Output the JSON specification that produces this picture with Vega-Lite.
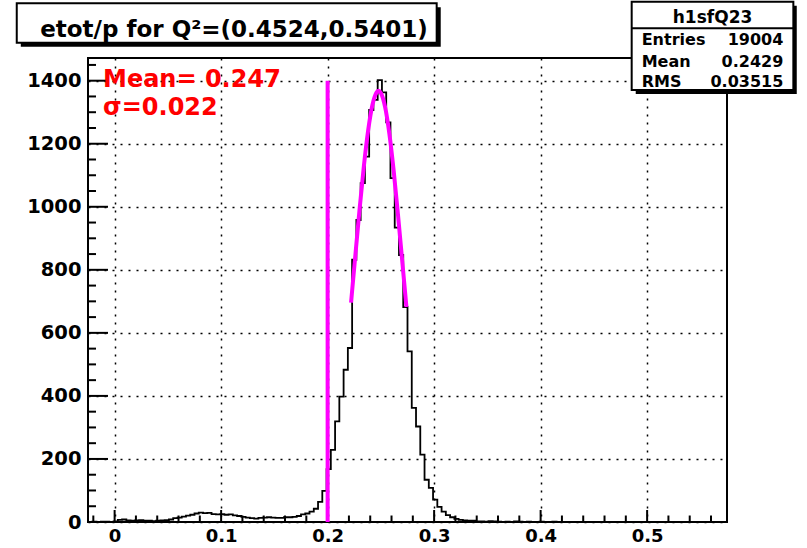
{
  "$schema": "https://vega.github.io/schema/vega-lite/v6.json",
  "width": 639,
  "height": 464,
  "autosize": {"type": "none"},
  "padding": {"left": 88, "top": 58, "right": 80, "bottom": 26},
  "background": "white",
  "config": {
    "view": {"stroke": "black", "strokeWidth": 2},
    "font": "DejaVu Sans"
  },
  "datasets": {
    "hist": [
      {"x": -0.025, "n": 0}, {"x": -0.021, "n": 1}, {"x": -0.017, "n": 0}, {"x": -0.013, "n": 1}, {"x": -0.009, "n": 1},
      {"x": -0.005, "n": 0}, {"x": -0.001, "n": 2}, {"x": 0.003, "n": 7}, {"x": 0.007, "n": 8}, {"x": 0.011, "n": 5},
      {"x": 0.015, "n": 4}, {"x": 0.019, "n": 5}, {"x": 0.023, "n": 6}, {"x": 0.027, "n": 4}, {"x": 0.031, "n": 4},
      {"x": 0.035, "n": 3}, {"x": 0.039, "n": 4}, {"x": 0.043, "n": 5}, {"x": 0.047, "n": 6}, {"x": 0.051, "n": 8},
      {"x": 0.055, "n": 12}, {"x": 0.059, "n": 14}, {"x": 0.063, "n": 17}, {"x": 0.067, "n": 20}, {"x": 0.071, "n": 23},
      {"x": 0.075, "n": 27}, {"x": 0.079, "n": 30}, {"x": 0.083, "n": 28}, {"x": 0.087, "n": 29}, {"x": 0.091, "n": 25},
      {"x": 0.095, "n": 24}, {"x": 0.099, "n": 25}, {"x": 0.103, "n": 23}, {"x": 0.107, "n": 24}, {"x": 0.111, "n": 21},
      {"x": 0.115, "n": 19}, {"x": 0.119, "n": 16}, {"x": 0.123, "n": 14}, {"x": 0.127, "n": 12}, {"x": 0.131, "n": 11},
      {"x": 0.135, "n": 13}, {"x": 0.139, "n": 14}, {"x": 0.143, "n": 15}, {"x": 0.147, "n": 14}, {"x": 0.151, "n": 13},
      {"x": 0.155, "n": 13}, {"x": 0.159, "n": 15}, {"x": 0.163, "n": 15}, {"x": 0.167, "n": 16}, {"x": 0.171, "n": 19},
      {"x": 0.175, "n": 24}, {"x": 0.179, "n": 27}, {"x": 0.183, "n": 33}, {"x": 0.187, "n": 42}, {"x": 0.191, "n": 64},
      {"x": 0.195, "n": 99}, {"x": 0.199, "n": 168}, {"x": 0.203, "n": 229}, {"x": 0.207, "n": 319}, {"x": 0.211, "n": 398},
      {"x": 0.215, "n": 483}, {"x": 0.219, "n": 552}, {"x": 0.223, "n": 832}, {"x": 0.227, "n": 958}, {"x": 0.231, "n": 1075},
      {"x": 0.235, "n": 1159}, {"x": 0.239, "n": 1307}, {"x": 0.243, "n": 1339}, {"x": 0.247, "n": 1402}, {"x": 0.251, "n": 1363},
      {"x": 0.255, "n": 1268}, {"x": 0.259, "n": 1091}, {"x": 0.263, "n": 934}, {"x": 0.267, "n": 847}, {"x": 0.271, "n": 682},
      {"x": 0.275, "n": 541}, {"x": 0.279, "n": 362}, {"x": 0.283, "n": 303}, {"x": 0.287, "n": 214}, {"x": 0.291, "n": 134},
      {"x": 0.295, "n": 108}, {"x": 0.299, "n": 71}, {"x": 0.303, "n": 48}, {"x": 0.307, "n": 33}, {"x": 0.311, "n": 22},
      {"x": 0.315, "n": 15}, {"x": 0.319, "n": 10}, {"x": 0.323, "n": 7}, {"x": 0.327, "n": 5}, {"x": 0.331, "n": 4},
      {"x": 0.335, "n": 4}, {"x": 0.339, "n": 2}, {"x": 0.343, "n": 2}, {"x": 0.347, "n": 1}, {"x": 0.351, "n": 3},
      {"x": 0.355, "n": 2}, {"x": 0.359, "n": 1}, {"x": 0.363, "n": 0}, {"x": 0.367, "n": 1}, {"x": 0.371, "n": 0},
      {"x": 0.375, "n": 2}, {"x": 0.379, "n": 1}, {"x": 0.383, "n": 0}, {"x": 0.387, "n": 1}, {"x": 0.391, "n": 0},
      {"x": 0.395, "n": 0}, {"x": 0.399, "n": 1}, {"x": 0.403, "n": 0}, {"x": 0.407, "n": 0}, {"x": 0.411, "n": 1},
      {"x": 0.415, "n": 0}, {"x": 0.419, "n": 0}, {"x": 0.423, "n": 0}, {"x": 0.427, "n": 0}, {"x": 0.431, "n": 0},
      {"x": 0.435, "n": 0}, {"x": 0.439, "n": 0}, {"x": 0.443, "n": 0}, {"x": 0.447, "n": 0}, {"x": 0.451, "n": 0},
      {"x": 0.455, "n": 0}, {"x": 0.459, "n": 0}, {"x": 0.463, "n": 0}, {"x": 0.467, "n": 0}, {"x": 0.471, "n": 0},
      {"x": 0.475, "n": 0}, {"x": 0.479, "n": 0}, {"x": 0.483, "n": 0}, {"x": 0.487, "n": 0}, {"x": 0.491, "n": 0},
      {"x": 0.495, "n": 0}, {"x": 0.499, "n": 0}, {"x": 0.503, "n": 0}, {"x": 0.507, "n": 0}, {"x": 0.511, "n": 0},
      {"x": 0.515, "n": 0}, {"x": 0.519, "n": 0}, {"x": 0.523, "n": 0}, {"x": 0.527, "n": 0}, {"x": 0.531, "n": 0},
      {"x": 0.535, "n": 0}, {"x": 0.539, "n": 0}, {"x": 0.543, "n": 0}, {"x": 0.547, "n": 0}, {"x": 0.551, "n": 0},
      {"x": 0.555, "n": 0}, {"x": 0.559, "n": 0}, {"x": 0.563, "n": 0}, {"x": 0.567, "n": 0}, {"x": 0.571, "n": 0},
      {"x": 0.575, "n": 0}
    ],
    "fit": [
      {"x": 0.222, "y": 696}, {"x": 0.226, "y": 845}, {"x": 0.230, "y": 992}, {"x": 0.234, "y": 1128},
      {"x": 0.238, "y": 1241}, {"x": 0.242, "y": 1322}, {"x": 0.246, "y": 1363}, {"x": 0.2478, "y": 1368},
      {"x": 0.250, "y": 1361}, {"x": 0.254, "y": 1316}, {"x": 0.258, "y": 1231}, {"x": 0.262, "y": 1115},
      {"x": 0.266, "y": 977}, {"x": 0.270, "y": 830}, {"x": 0.274, "y": 682}
    ],
    "cut": [{"x": 0.2, "top": 1400}],
    "xmajor": [{"v": 0}, {"v": 0.1}, {"v": 0.2}, {"v": 0.3}, {"v": 0.4}, {"v": 0.5}],
    "xminor": [
      {"v": -0.02}, {"v": 0.02}, {"v": 0.04}, {"v": 0.06}, {"v": 0.08}, {"v": 0.12}, {"v": 0.14}, {"v": 0.16}, {"v": 0.18},
      {"v": 0.22}, {"v": 0.24}, {"v": 0.26}, {"v": 0.28}, {"v": 0.32}, {"v": 0.34}, {"v": 0.36}, {"v": 0.38},
      {"v": 0.42}, {"v": 0.44}, {"v": 0.46}, {"v": 0.48}, {"v": 0.52}, {"v": 0.54}, {"v": 0.56}
    ],
    "ymajor": [{"v": 0}, {"v": 200}, {"v": 400}, {"v": 600}, {"v": 800}, {"v": 1000}, {"v": 1200}, {"v": 1400}],
    "yminor": [
      {"v": 50}, {"v": 100}, {"v": 150}, {"v": 250}, {"v": 300}, {"v": 350}, {"v": 450}, {"v": 500}, {"v": 550},
      {"v": 650}, {"v": 700}, {"v": 750}, {"v": 850}, {"v": 900}, {"v": 950}, {"v": 1050}, {"v": 1100}, {"v": 1150},
      {"v": 1250}, {"v": 1300}, {"v": 1350}, {"v": 1450}
    ]
  },
  "layer": [
    {
      "data": {"name": "hist"},
      "mark": {"type": "line", "interpolate": "step-after", "color": "black", "strokeWidth": 1.8},
      "encoding": {
        "x": {
          "field": "x", "type": "quantitative",
          "scale": {"domain": [-0.025, 0.575], "nice": false, "zero": false},
          "axis": {
            "orient": "bottom", "title": null, "values": [0, 0.1, 0.2, 0.3, 0.4, 0.5],
            "labelExpr": "datum.value == 0 ? '0' : format(datum.value, '.1f')",
            "domain": false, "ticks": false, "grid": true, "gridColor": "black", "gridDash": [2, 6], "gridWidth": 1.5, "gridOpacity": 1,
            "labelPadding": 5, "labelFont": "DejaVu Sans", "labelFontWeight": "bold", "labelFontSize": 18,
            "labelColor": "black", "labelFlush": false, "labelOverlap": false
          }
        },
        "y": {
          "field": "n", "type": "quantitative",
          "scale": {"domain": [0, 1472], "nice": false, "zero": false},
          "axis": {
            "orient": "left", "title": null, "values": [0, 200, 400, 600, 800, 1000, 1200, 1400], "format": "d",
            "domain": false, "ticks": false, "grid": true, "gridColor": "black", "gridDash": [2, 6], "gridWidth": 1.5, "gridOpacity": 1,
            "labelPadding": 7, "labelFont": "DejaVu Sans", "labelFontWeight": "bold", "labelFontSize": 19.5,
            "labelColor": "black", "labelFlush": false, "labelOverlap": false
          }
        }
      }
    },
    {
      "data": {"name": "xmajor"},
      "mark": {"type": "rule", "color": "black", "strokeWidth": 2},
      "encoding": {
        "x": {"field": "v", "type": "quantitative", "scale": {"domain": [-0.025, 0.575], "nice": false, "zero": false}, "axis": null},
        "y": {"datum": 0, "type": "quantitative", "scale": {"domain": [0, 1472], "nice": false, "zero": false}, "axis": null},
        "y2": {"datum": 38}
      }
    },
    {
      "data": {"name": "xminor"},
      "mark": {"type": "rule", "color": "black", "strokeWidth": 2},
      "encoding": {
        "x": {"field": "v", "type": "quantitative", "scale": {"domain": [-0.025, 0.575], "nice": false, "zero": false}, "axis": null},
        "y": {"datum": 0, "type": "quantitative", "scale": {"domain": [0, 1472], "nice": false, "zero": false}, "axis": null},
        "y2": {"datum": 20.6}
      }
    },
    {
      "data": {"name": "ymajor"},
      "mark": {"type": "rule", "color": "black", "strokeWidth": 2},
      "encoding": {
        "y": {"field": "v", "type": "quantitative", "scale": {"domain": [0, 1472], "nice": false, "zero": false}, "axis": null},
        "x": {"datum": -0.025, "type": "quantitative", "scale": {"domain": [-0.025, 0.575], "nice": false, "zero": false}, "axis": null},
        "x2": {"datum": -0.0062}
      }
    },
    {
      "data": {"name": "yminor"},
      "mark": {"type": "rule", "color": "black", "strokeWidth": 2},
      "encoding": {
        "y": {"field": "v", "type": "quantitative", "scale": {"domain": [0, 1472], "nice": false, "zero": false}, "axis": null},
        "x": {"datum": -0.025, "type": "quantitative", "scale": {"domain": [-0.025, 0.575], "nice": false, "zero": false}, "axis": null},
        "x2": {"datum": -0.0175}
      }
    },
    {
      "data": {"name": "cut"},
      "mark": {"type": "rule", "color": "#ff00ff", "strokeWidth": 4},
      "encoding": {
        "x": {"field": "x", "type": "quantitative", "scale": {"domain": [-0.025, 0.575], "nice": false, "zero": false}, "axis": null},
        "y": {"field": "top", "type": "quantitative", "scale": {"domain": [0, 1472], "nice": false, "zero": false}, "axis": null},
        "y2": {"datum": 0}
      }
    },
    {
      "data": {"name": "fit"},
      "mark": {"type": "line", "interpolate": "monotone", "color": "#ff00ff", "strokeWidth": 4},
      "encoding": {
        "x": {"field": "x", "type": "quantitative", "scale": {"domain": [-0.025, 0.575], "nice": false, "zero": false}, "axis": null},
        "y": {"field": "y", "type": "quantitative", "scale": {"domain": [0, 1472], "nice": false, "zero": false}, "axis": null}
      }
    },
    {
      "data": {"values": [{}]},
      "mark": {"type": "text", "text": "Mean= 0.247", "color": "#ff0000", "fontSize": 24, "fontWeight": "bold", "font": "DejaVu Sans", "align": "left", "baseline": "alphabetic"},
      "encoding": {
        "x": {"datum": -0.0109, "type": "quantitative", "scale": {"domain": [-0.025, 0.575], "nice": false, "zero": false}, "axis": null},
        "y": {"datum": 1380, "type": "quantitative", "scale": {"domain": [0, 1472], "nice": false, "zero": false}, "axis": null}
      }
    },
    {
      "data": {"values": [{}]},
      "mark": {"type": "text", "text": "σ=0.022", "color": "#ff0000", "fontSize": 24, "fontWeight": "bold", "font": "DejaVu Sans", "align": "left", "baseline": "alphabetic"},
      "encoding": {
        "x": {"datum": -0.0109, "type": "quantitative", "scale": {"domain": [-0.025, 0.575], "nice": false, "zero": false}, "axis": null},
        "y": {"datum": 1291, "type": "quantitative", "scale": {"domain": [0, 1472], "nice": false, "zero": false}, "axis": null}
      }
    },
    {
      "data": {"values": [{}]},
      "mark": {"type": "rect", "color": "black"},
      "encoding": {
        "x": {"datum": -0.0881, "type": "quantitative", "scale": {"domain": [-0.025, 0.575], "nice": false, "zero": false}, "axis": null},
        "x2": {"datum": 0.3062},
        "y": {"datum": 1508, "type": "quantitative", "scale": {"domain": [0, 1472], "nice": false, "zero": false}, "axis": null},
        "y2": {"datum": 1633}
      }
    },
    {
      "data": {"values": [{}]},
      "mark": {"type": "rect", "fill": "white", "stroke": "black", "strokeWidth": 2},
      "encoding": {
        "x": {"datum": -0.0919, "type": "quantitative", "scale": {"domain": [-0.025, 0.575], "nice": false, "zero": false}, "axis": null},
        "x2": {"datum": 0.3024},
        "y": {"datum": 1520.6, "type": "quantitative", "scale": {"domain": [0, 1472], "nice": false, "zero": false}, "axis": null},
        "y2": {"datum": 1645.5}
      }
    },
    {
      "data": {"values": [{}]},
      "mark": {"type": "text", "text": "etot/p for Q²=(0.4524,0.5401)", "color": "black", "fontSize": 23, "fontWeight": "bold", "font": "DejaVu Sans", "align": "center", "baseline": "alphabetic"},
      "encoding": {
        "x": {"datum": 0.1121, "type": "quantitative", "scale": {"domain": [-0.025, 0.575], "nice": false, "zero": false}, "axis": null},
        "y": {"datum": 1539.6, "type": "quantitative", "scale": {"domain": [0, 1472], "nice": false, "zero": false}, "axis": null}
      }
    },
    {
      "data": {"values": [{}]},
      "mark": {"type": "rect", "color": "black"},
      "encoding": {
        "x": {"datum": 0.4893, "type": "quantitative", "scale": {"domain": [-0.025, 0.575], "nice": false, "zero": false}, "axis": null},
        "x2": {"datum": 0.6405},
        "y": {"datum": 1357.8, "type": "quantitative", "scale": {"domain": [0, 1472], "nice": false, "zero": false}, "axis": null},
        "y2": {"datum": 1638}
      }
    },
    {
      "data": {"values": [{}]},
      "mark": {"type": "rect", "fill": "white", "stroke": "black", "strokeWidth": 2},
      "encoding": {
        "x": {"datum": 0.4855, "type": "quantitative", "scale": {"domain": [-0.025, 0.575], "nice": false, "zero": false}, "axis": null},
        "x2": {"datum": 0.6373},
        "y": {"datum": 1370.5, "type": "quantitative", "scale": {"domain": [0, 1472], "nice": false, "zero": false}, "axis": null},
        "y2": {"datum": 1650.6}
      }
    },
    {
      "data": {"values": [{}]},
      "mark": {"type": "rule", "color": "black", "strokeWidth": 2},
      "encoding": {
        "x": {"datum": 0.4855, "type": "quantitative", "scale": {"domain": [-0.025, 0.575], "nice": false, "zero": false}, "axis": null},
        "x2": {"datum": 0.6373},
        "y": {"datum": 1566.2, "type": "quantitative", "scale": {"domain": [0, 1472], "nice": false, "zero": false}, "axis": null}
      }
    },
    {
      "data": {"values": [{}]},
      "mark": {"type": "text", "text": "h1sfQ23", "color": "black", "fontSize": 17, "fontWeight": "bold", "font": "DejaVu Sans", "align": "center", "baseline": "alphabetic"},
      "encoding": {
        "x": {"datum": 0.5614, "type": "quantitative", "scale": {"domain": [-0.025, 0.575], "nice": false, "zero": false}, "axis": null},
        "y": {"datum": 1582, "type": "quantitative", "scale": {"domain": [0, 1472], "nice": false, "zero": false}, "axis": null}
      }
    },
    {
      "data": {"values": [{}]},
      "mark": {"type": "text", "text": "Entries", "color": "black", "fontSize": 16, "fontWeight": "bold", "font": "DejaVu Sans", "align": "left", "baseline": "alphabetic"},
      "encoding": {
        "x": {"datum": 0.4949, "type": "quantitative", "scale": {"domain": [-0.025, 0.575], "nice": false, "zero": false}, "axis": null},
        "y": {"datum": 1511.7, "type": "quantitative", "scale": {"domain": [0, 1472], "nice": false, "zero": false}, "axis": null}
      }
    },
    {
      "data": {"values": [{}]},
      "mark": {"type": "text", "text": "19004", "color": "black", "fontSize": 16, "fontWeight": "bold", "font": "DejaVu Sans", "align": "right", "baseline": "alphabetic"},
      "encoding": {
        "x": {"datum": 0.6279, "type": "quantitative", "scale": {"domain": [-0.025, 0.575], "nice": false, "zero": false}, "axis": null},
        "y": {"datum": 1511.7, "type": "quantitative", "scale": {"domain": [0, 1472], "nice": false, "zero": false}, "axis": null}
      }
    },
    {
      "data": {"values": [{}]},
      "mark": {"type": "text", "text": "Mean", "color": "black", "fontSize": 16, "fontWeight": "bold", "font": "DejaVu Sans", "align": "left", "baseline": "alphabetic"},
      "encoding": {
        "x": {"datum": 0.4949, "type": "quantitative", "scale": {"domain": [-0.025, 0.575], "nice": false, "zero": false}, "axis": null},
        "y": {"datum": 1445, "type": "quantitative", "scale": {"domain": [0, 1472], "nice": false, "zero": false}, "axis": null}
      }
    },
    {
      "data": {"values": [{}]},
      "mark": {"type": "text", "text": "0.2429", "color": "black", "fontSize": 16, "fontWeight": "bold", "font": "DejaVu Sans", "align": "right", "baseline": "alphabetic"},
      "encoding": {
        "x": {"datum": 0.6279, "type": "quantitative", "scale": {"domain": [-0.025, 0.575], "nice": false, "zero": false}, "axis": null},
        "y": {"datum": 1445, "type": "quantitative", "scale": {"domain": [0, 1472], "nice": false, "zero": false}, "axis": null}
      }
    },
    {
      "data": {"values": [{}]},
      "mark": {"type": "text", "text": "RMS", "color": "black", "fontSize": 16, "fontWeight": "bold", "font": "DejaVu Sans", "align": "left", "baseline": "alphabetic"},
      "encoding": {
        "x": {"datum": 0.4949, "type": "quantitative", "scale": {"domain": [-0.025, 0.575], "nice": false, "zero": false}, "axis": null},
        "y": {"datum": 1380, "type": "quantitative", "scale": {"domain": [0, 1472], "nice": false, "zero": false}, "axis": null}
      }
    },
    {
      "data": {"values": [{}]},
      "mark": {"type": "text", "text": "0.03515", "color": "black", "fontSize": 16, "fontWeight": "bold", "font": "DejaVu Sans", "align": "right", "baseline": "alphabetic"},
      "encoding": {
        "x": {"datum": 0.6279, "type": "quantitative", "scale": {"domain": [-0.025, 0.575], "nice": false, "zero": false}, "axis": null},
        "y": {"datum": 1380, "type": "quantitative", "scale": {"domain": [0, 1472], "nice": false, "zero": false}, "axis": null}
      }
    }
  ],
  "resolve": {"axis": {"x": "independent", "y": "independent"}}
}
